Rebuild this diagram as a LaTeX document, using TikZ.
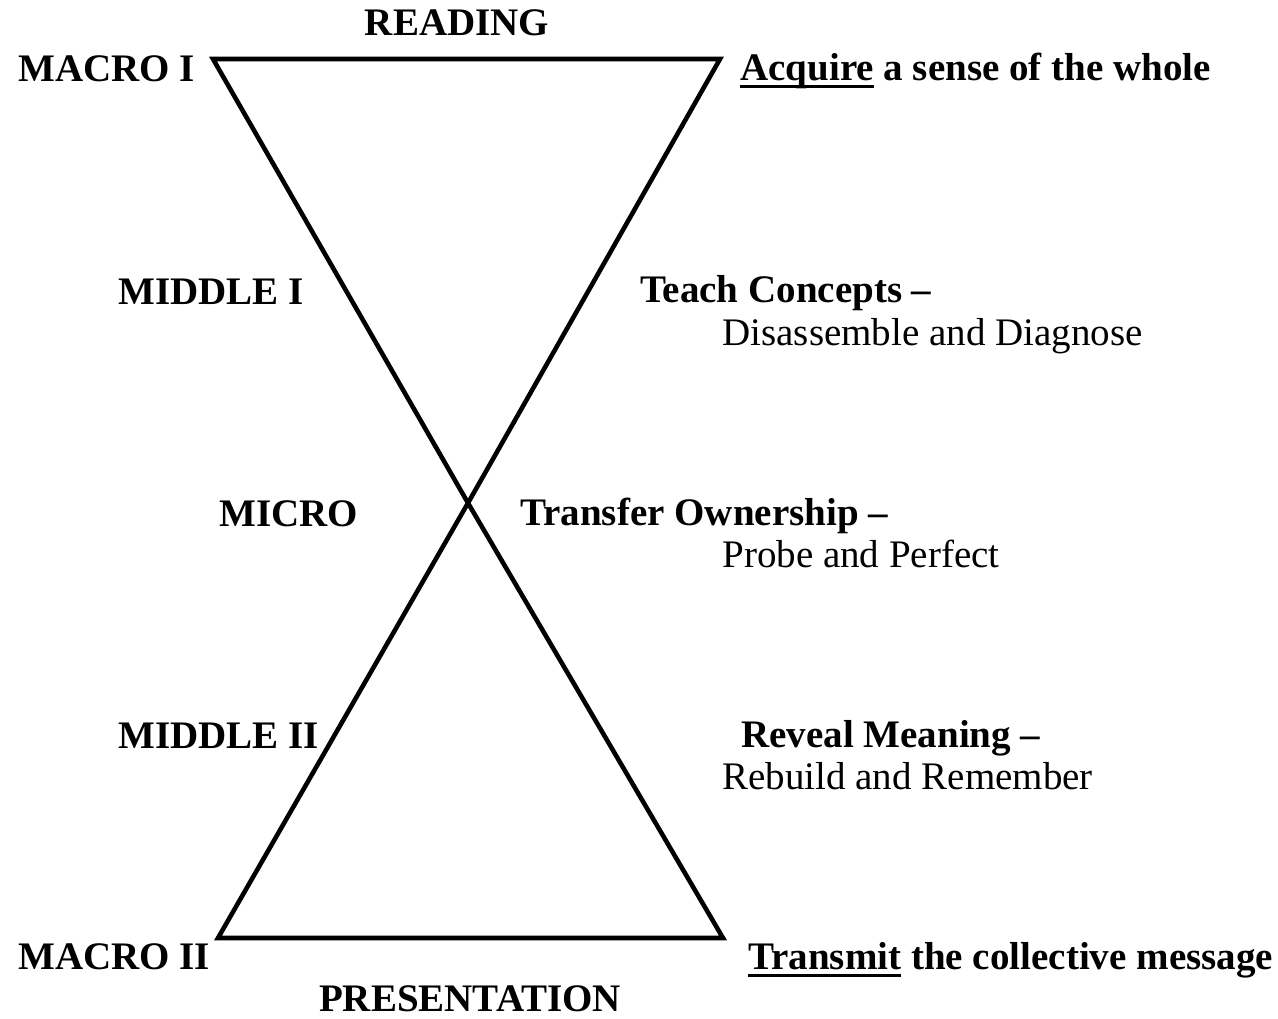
\documentclass[tikz,border=0pt]{standalone}
\usepackage{fontspec}
\setmainfont{Liberation Serif}
\newsavebox{\ulbox}
\newcommand{\ulword}[1]{\sbox{\ulbox}{#1}\rlap{\rule[-4.5pt]{\wd\ulbox}{1.4pt}}\usebox{\ulbox}}
\begin{document}
\begin{tikzpicture}[x=0.02cm,y=-0.02cm,
  lbl/.style={font=\fontsize{22.2}{26}\selectfont\bfseries,inner sep=0pt},
  sub/.style={font=\fontsize{22.2}{26}\selectfont,inner sep=0pt}]
  \useasboundingbox (0,0) rectangle (1278,1018);

  \coordinate (TL) at (213, 59);
  \coordinate (TR) at (720, 59);
  \coordinate (X) at (468, 503);
  \coordinate (BL) at (218, 938);
  \coordinate (BR) at (723, 938);
  \draw[line width=2.6pt,line join=miter] (TL) -- (TR) -- (X) -- (BL) -- (BR) -- (X) -- cycle;

  \node[lbl,anchor=base] (R) at (457, 35) {READING};
  \node[lbl,anchor=base] (P) at (470, 1011) {PRESENTATION};

  \node[lbl,anchor=base west] (M1) at (18, 81) {MACRO I};
  \node[lbl,anchor=base west] (D1) at (118, 304) {MIDDLE I};
  \node[lbl,anchor=base west] (MC) at (219, 526) {MICRO};
  \node[lbl,anchor=base west] (D2) at (118, 748) {MIDDLE II};
  \node[lbl,anchor=base west] (M2) at (18, 969) {MACRO II};

  \node[lbl,anchor=base west] (A) at (740, 80) {\ulword{Acquire} a sense of the whole};
  \node[lbl,anchor=base west] (T) at (640, 302) {Teach Concepts --};
  \node[sub,anchor=base west] (TS) at (722, 345) {Disassemble and Diagnose};
  \node[lbl,anchor=base west] (O) at (520, 525) {Transfer Ownership --};
  \node[sub,anchor=base west] (OS) at (722, 567) {Probe and Perfect};
  \node[lbl,anchor=base west] (V) at (741, 747) {Reveal Meaning --};
  \node[sub,anchor=base west] (VS) at (722, 789) {Rebuild and Remember};
  \node[lbl,anchor=base west] (XM) at (748, 969) {\ulword{Transmit} the collective message};
\end{tikzpicture}
\end{document}
